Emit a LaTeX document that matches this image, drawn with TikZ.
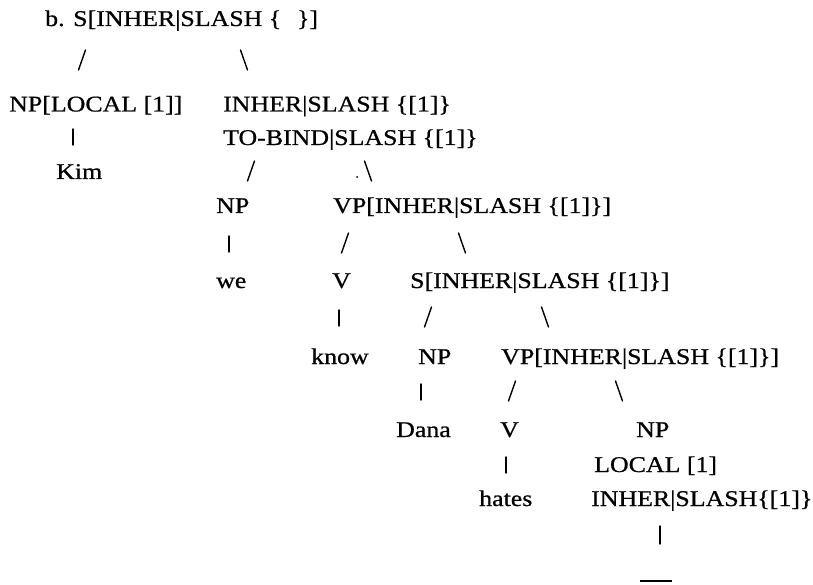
\documentclass[tikz,border=0pt]{standalone}
\usepackage{fontspec}
\setmainfont{Liberation Serif}[FakeStretch=1.15,FakeBold=0.7]
\newcommand\linkseg[5]{%
  \coordinate (#1t) at ({#2+#4},{#3-#5});
  \coordinate (#1b) at ({#2-#4},{#3+#5});
  \draw[conn] (#1t) -- (#1b);}
\begin{document}
\begin{tikzpicture}[x=1pt,y=-1pt,
  lbl/.style={inner sep=0pt,anchor=base west,font=\fontsize{22.5}{27}\selectfont},
  conn/.style={line width=1.4pt,line cap=round}]
\useasboundingbox (0,0) rectangle (813,585);
% row 0
\node[lbl] (root) at (45,26) {b. S[INHER|SLASH \{\hspace{0.7em}\}]};
\linkseg{c1}{82}{60}{3.5}{10}
\linkseg{c2}{244}{60}{-3.5}{10}
% row 2-3
\node[lbl] (np1) at (9,111.5) {NP[LOCAL [1]]};
\node[lbl] (inh1) at (223,111.5) {INHER|SLASH \{[1]\}};
\node[lbl] (tob) at (223,145) {TO-BIND|SLASH \{[1]\}};
\linkseg{c3}{73}{137}{0}{8}
% row 4
\node[lbl] (kim) at (56,179) {Kim};
\linkseg{c4}{251}{171}{3.5}{10}
\linkseg{c5}{368}{171}{-3.5}{10}
\fill (357,177) circle (1);
% row 5
\node[lbl] (np2) at (216,213) {NP};
\node[lbl] (vp1) at (333,213) {VP[INHER|SLASH \{[1]\}]};
\linkseg{c6}{229}{244}{0}{8}
\linkseg{c7}{345}{243}{3.5}{10}
\linkseg{c8}{462}{243}{-3.5}{10}
% row 7
\node[lbl] (we) at (216,288) {we};
\node[lbl] (v1) at (332,288) {V};
\node[lbl] (s2) at (410,288) {S[INHER|SLASH \{[1]\}]};
\linkseg{c9}{339}{318}{0}{8}
\linkseg{c10}{428}{317}{3.5}{10}
\linkseg{c11}{545}{317}{-3.5}{10}
% row 9
\node[lbl] (know) at (311,364) {know};
\node[lbl] (np3) at (418,364) {NP};
\node[lbl] (vp2) at (501,364) {VP[INHER|SLASH \{[1]\}]};
\linkseg{c12}{421}{392}{0}{8}
\linkseg{c13}{512}{391}{3.5}{10}
\linkseg{c14}{619}{391}{-3.5}{10}
% row 11
\node[lbl] (dana) at (396,437) {Dana};
\node[lbl] (v2) at (500,437) {V};
\node[lbl] (np4) at (636,437) {NP};
\node[lbl] (loc) at (594,472) {LOCAL [1]};
\linkseg{c15}{506}{465}{0}{8}
\node[lbl] (hates) at (479,506) {hates};
\node[lbl] (inh2) at (591,506) {INHER|SLASH\{[1]\}};
\linkseg{c16}{660}{535}{0}{9}
\coordinate (gapl) at (640,581);
\coordinate (gapr) at (672,581);
\draw[line width=2pt] (gapl) -- (gapr);
\end{tikzpicture}
\end{document}
